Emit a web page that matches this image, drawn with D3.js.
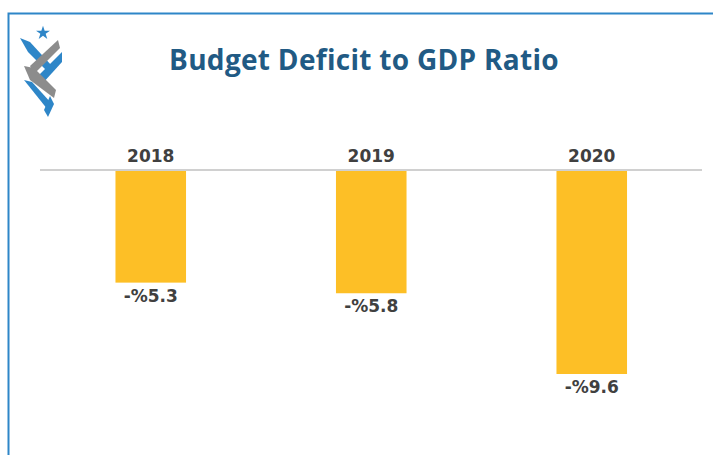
<!DOCTYPE html>
<html>
<head>
<meta charset="utf-8">
<script src="https://cdn.jsdelivr.net/npm/d3@7"></script>
<style>
  body { margin: 0; background: #fff; }
  svg { display: block; }
</style>
</head>
<body>
<svg id="chart" width="713" height="455"></svg>
<script>
var years = ['2018', '2019', '2020'];
var deficit = [-5.3, -5.8, -9.6];
var valueLabels = ['-%5.3', '-%5.8', '-%9.6'];

var svg = d3.select('#chart');
var width = 713, height = 455;

// frame
svg.append('path')
    .attr('d', 'M8.5,' + height + 'V13.5H' + width)
    .attr('fill', 'none')
    .attr('stroke', '#2e86c8')
    .attr('stroke-width', 2);

// logo (rough)
var logo = svg.append('g');
var star = d3.symbol().type(d3.symbolStar).size(60);
logo.append('path').attr('d', star()).attr('transform', 'translate(43,33)').attr('fill', '#2e86c8');
var ribbons = [
    {d: 'M20,38 L30,42 L52,66 L50,74 L28,52 Z', c: '#2e86c8'},
    {d: 'M58,40 L60,48 L34,74 L30,66 Z', c: '#8c8c8c'},
    {d: 'M62,52 L62,62 L42,84 L38,76 Z', c: '#2e86c8'},
    {d: 'M24,66 L34,68 L56,90 L54,98 L30,80 Z', c: '#8c8c8c'},
    {d: 'M24,80 L32,82 L52,104 L48,110 Z', c: '#2e86c8'},
    {d: 'M50,96 L54,104 L48,117 L44,110 Z', c: '#2e86c8'}
];
logo.selectAll('.rib').data(ribbons).enter().append('path')
    .attr('class', 'rib')
    .attr('d', function(d) { return d.d; })
    .attr('fill', function(d) { return d.c; });

// title
svg.append('text')
    .attr('x', 364)
    .attr('y', 70)
    .attr('text-anchor', 'middle')
    .style('font-family', '"Open Sans", sans-serif')
    .style('font-weight', 'bold')
    .style('font-size', '28px')
    .style('letter-spacing', '0.3px')
    .style('fill', '#215a84')
    .text('Budget Deficit to GDP Ratio');

// scales
var x = d3.scaleBand()
    .domain(years)
    .range([40.5, 702])
    .paddingInner(0.68)
    .paddingOuter(0.34);

var y = d3.scaleLinear()
    .domain([0, -9.6])
    .range([170, 374]);

var data = years.map(function(d, i) {
    return {year: d, value: deficit[i], label: valueLabels[i]};
});

svg.selectAll('.bar').data(data).enter().append('rect')
    .attr('class', 'bar')
    .attr('x', function(d) { return x(d.year); })
    .attr('y', y(0))
    .attr('width', x.bandwidth())
    .attr('height', function(d) { return y(d.value) - y(0); })
    .attr('fill', '#fdbf26');

// zero line
svg.append('line')
    .attr('x1', 40).attr('x2', 702)
    .attr('y1', y(0)).attr('y2', y(0))
    .attr('stroke', '#d0d0d0')
    .attr('stroke-width', 2);

// year labels
svg.selectAll('.year').data(data).enter().append('text')
    .attr('class', 'year')
    .attr('x', function(d) { return x(d.year) + x.bandwidth() / 2; })
    .attr('y', 162)
    .attr('text-anchor', 'middle')
    .style('font-family', '"DejaVu Sans", sans-serif')
    .style('font-weight', 'bold')
    .style('font-size', '17px')
    .style('fill', '#404040')
    .text(function(d) { return d.year; });

// value labels
svg.selectAll('.val').data(data).enter().append('text')
    .attr('class', 'val')
    .attr('x', function(d) { return x(d.year) + x.bandwidth() / 2; })
    .attr('y', function(d) { return y(d.value) + 19; })
    .attr('text-anchor', 'middle')
    .style('font-family', '"DejaVu Sans", sans-serif')
    .style('font-weight', 'bold')
    .style('font-size', '17px')
    .style('fill', '#404040')
    .text(function(d) { return d.label; });
</script>
</body>
</html>
